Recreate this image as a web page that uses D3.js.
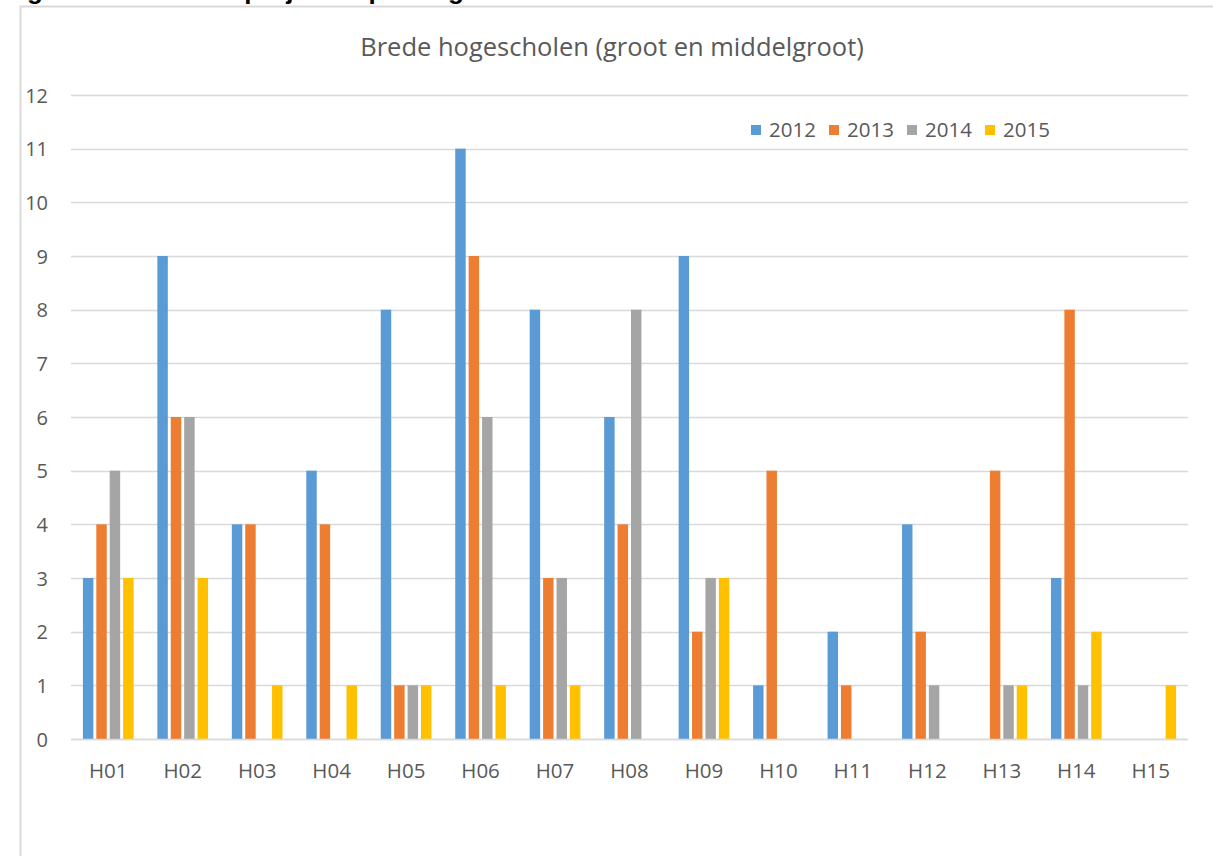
<!DOCTYPE html>
<html>
<head>
<meta charset="utf-8">
<script src="https://cdnjs.cloudflare.com/ajax/libs/d3/7.8.5/d3.min.js"></script>
<style>
  body { margin: 0; background: #fff; }
  svg { display: block; font-family: "Open Sans", "Noto Sans", sans-serif; }
</style>
</head>
<body>
<svg id="chart" width="1213" height="856"></svg>
<script>
// data
var scholen = ['H01','H02','H03','H04','H05','H06','H07','H08','H09','H10','H11','H12','H13','H14','H15'];
var jaren = ['2012','2013','2014','2015'];
var v2012 = [3, 9, 4, 5, 8, 11, 8, 6, 9, 1, 2, 4, 0, 3, 0];
var v2013 = [4, 6, 4, 4, 1, 9, 3, 4, 2, 5, 1, 2, 5, 8, 0];
var v2014 = [5, 6, 0, 0, 1, 6, 3, 8, 3, 0, 0, 1, 1, 1, 0];
var v2015 = [3, 3, 1, 1, 1, 1, 1, 0, 3, 0, 0, 0, 1, 2, 1];
var yTicks = [0,1,2,3,4,5,6,7,8,9,10,11,12];
var kleuren = ['#5B9BD5', '#ED7D31', '#A5A5A5', '#FFC000'];

var reeksen = [v2012, v2013, v2014, v2015];

var svg = d3.select('#chart');

// cut off caption above the chart box (only the descenders show)
svg.append('text')
  .attr('x', 4).attr('y', -1)
  .attr('font-size', 26).attr('font-weight', 'bold')
  .attr('fill', '#000')
  .style('font-family', 'Liberation Sans, sans-serif')
  .text('Figuur 3.12: Aantal projecten per hogeschool');

// chart box
svg.append('rect')
  .attr('x', 20.5).attr('y', 6.5)
  .attr('width', 1300).attr('height', 1000)
  .attr('fill', '#fff').attr('stroke', '#d9d9d9').attr('stroke-width', 2);

var plotL = 71, plotR = 1188, plotT = 95, plotB = 739;

var x0 = d3.scaleBand().domain(scholen).range([plotL, plotR]).paddingInner(0).paddingOuter(0);
var x1 = d3.scaleBand().domain(jaren).range([11.9, x0.bandwidth() - 11.9]).paddingInner(0.22);
var y = d3.scaleLinear().domain([0, 12]).range([plotB, plotT]);

// gridlines
svg.append('g').selectAll('line')
  .data(yTicks)
  .enter().append('line')
  .attr('x1', plotL).attr('x2', plotR)
  .attr('y1', function(d) { return Math.round(y(d)) + 0.5; })
  .attr('y2', function(d) { return Math.round(y(d)) + 0.5; })
  .attr('stroke', '#d9d9d9').attr('stroke-width', 1.5);

// y axis labels
svg.append('g').selectAll('text')
  .data(yTicks)
  .enter().append('text')
  .attr('x', 48)
  .attr('y', function(d) { return y(d) + 7.5; })
  .attr('text-anchor', 'end')
  .attr('font-size', 20).attr('fill', '#595959')
  .text(function(d) { return d; });

// bars
var groep = svg.append('g').selectAll('g')
  .data(scholen)
  .enter().append('g')
  .attr('transform', function(d) { return 'translate(' + x0(d) + ',0)'; });

groep.selectAll('rect')
  .data(function(d, i) {
    return jaren.map(function(j, k) { return { jaar: j, k: k, waarde: reeksen[k][i] }; });
  })
  .enter().append('rect')
  .attr('x', function(d) { return x1(d.jaar); })
  .attr('width', x1.bandwidth())
  .attr('y', function(d) { return y(d.waarde); })
  .attr('height', function(d) { return y(0) - y(d.waarde); })
  .attr('fill', function(d) { return kleuren[d.k]; });

// baseline on top of bars
svg.append('line')
  .attr('x1', plotL).attr('x2', plotR)
  .attr('y1', Math.round(y(0)) + 0.5).attr('y2', Math.round(y(0)) + 0.5)
  .attr('stroke', '#d9d9d9').attr('stroke-width', 1.5);

// x labels
svg.append('g').selectAll('text')
  .data(scholen)
  .enter().append('text')
  .attr('x', function(d) { return x0(d) + x0.bandwidth() / 2; })
  .attr('y', 778)
  .attr('text-anchor', 'middle')
  .attr('font-size', 20.5).attr('fill', '#595959')
  .text(function(d) { return d; });

// title
svg.append('text')
  .attr('x', 612).attr('y', 56)
  .attr('text-anchor', 'middle')
  .attr('font-size', 25.5).attr('fill', '#595959')
  .text('Brede hogescholen (groot en middelgroot)');

// legend
var legX = [751, 829, 907, 985];
var leg = svg.append('g').selectAll('g')
  .data(jaren)
  .enter().append('g')
  .attr('transform', function(d, i) { return 'translate(' + legX[i] + ',125)'; });
leg.append('rect')
  .attr('width', 10).attr('height', 10)
  .attr('fill', function(d, i) { return kleuren[i]; });
leg.append('text')
  .attr('x', 18).attr('y', 12)
  .attr('font-size', 20.5).attr('fill', '#595959')
  .text(function(d) { return d; });
</script>
</body>
</html>
